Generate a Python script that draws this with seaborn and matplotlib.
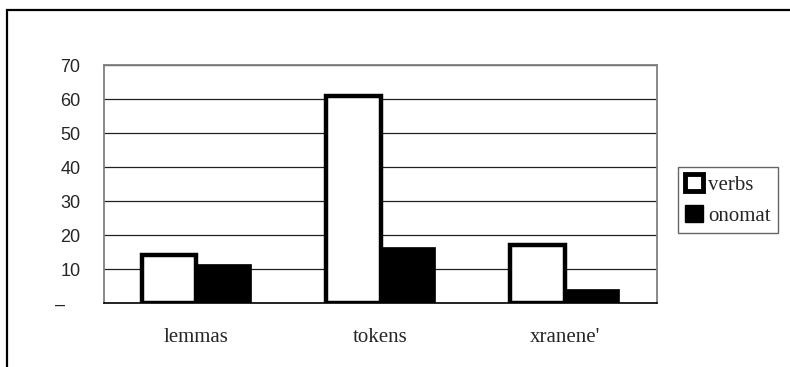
import pandas as pd
import matplotlib
matplotlib.use("Agg")
import matplotlib.pyplot as plt
import matplotlib.patches as mpatches
import seaborn as sns

# ==========================================
# DATA
# ==========================================

categories = ["lemmas", "tokens", "xranene'"]
verbs = [14, 61, 17]
onomat = [11.5, 16.5, 4]
series_names = ["verbs", "onomat"]
ytick_labels = ["\u2013   ", "10", "20", "30", "40", "50", "60", "70"]

df = pd.DataFrame({
    "category": categories * 2,
    "value": verbs + onomat,
    "series": [series_names[0]] * 3 + [series_names[1]] * 3,
})

sns.set_style("white")
plt.rcParams['font.family'] = ['Liberation Sans', 'DejaVu Sans']

fig = plt.figure(figsize=(7.9, 3.67), dpi=100)
ax = fig.add_axes([104 / 790, 1 - 303 / 367, (657 - 104) / 790, (303 - 65) / 367])

sns.barplot(
    data=df, x="category", y="value", hue="series",
    order=categories, hue_order=series_names,
    palette=["white", "black"], width=0.59,
    saturation=1, legend=False, ax=ax,
)

# verbs: white with thick border, onomat: solid black
for bar in ax.containers[0]:
    bar.set_edgecolor("black")
    bar.set_linewidth(3.2)
    bar.set_zorder(3)
for bar in ax.containers[1]:
    bar.set_edgecolor("black")
    bar.set_linewidth(0.5)
    bar.set_zorder(2)

ax.set_ylim(0, 70)
ax.set_xlim(-0.5, 2.5)
ax.set_yticks(range(0, 71, 10))
ax.set_yticklabels(ytick_labels, fontsize=13)
ax.yaxis.grid(True, color="#202020", linewidth=0.9)
ax.set_axisbelow(True)

ax.set_xticks(range(3))
ax.set_xticklabels(categories, family=['Liberation Serif'], fontsize=15)
ax.set_xticks([-0.5, 0.5, 1.5, 2.5], minor=True)
ax.tick_params(axis="x", which="major", length=0, pad=18)
ax.tick_params(axis="x", which="minor", length=5, color="black", width=0.8, direction="out")
ax.tick_params(axis="y", length=6, color="black", width=0.8, direction="out", pad=11)

ax.set_xlabel("")
ax.set_ylabel("")

for side in ["left", "right", "top"]:
    ax.spines[side].set_color("#808080")
    ax.spines[side].set_linewidth(1.3)
ax.spines["bottom"].set_color("black")
ax.spines["bottom"].set_linewidth(1.2)

handles = [
    mpatches.Patch(facecolor="white", edgecolor="black", linewidth=3.5, label="verbs"),
    mpatches.Patch(facecolor="black", edgecolor="black", label="onomat"),
]
fig.legend(
    handles=handles, loc="upper left",
    bbox_to_anchor=(678 / 790, 1 - 167 / 367),
    prop={"family": "Liberation Serif", "size": 15},
    frameon=True, fancybox=False, edgecolor="#404040",
    handlelength=0.85, handleheight=0.85, handletextpad=0.25,
    borderpad=0.35, labelspacing=0.5, borderaxespad=0,
)

# outer chart frame
fig.patches.append(mpatches.Rectangle(
    (7 / 790, -0.1), 1.1, 1.1 - 10 / 367,
    transform=fig.transFigure, fill=False,
    edgecolor="black", linewidth=1.6,
))

plt.savefig("out.png", dpi=100)
